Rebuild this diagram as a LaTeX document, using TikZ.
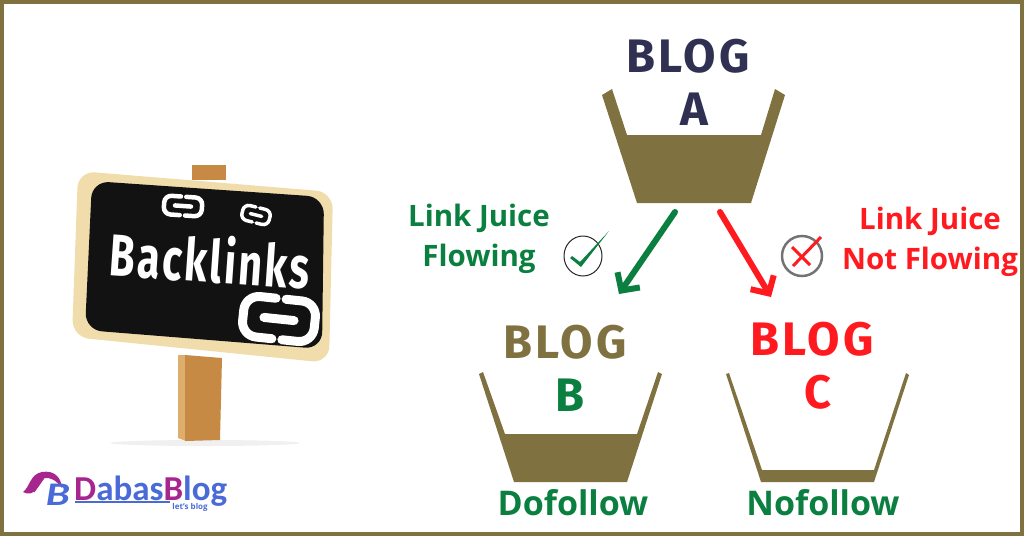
\documentclass[tikz,border=0pt]{standalone}
\usepackage{fontspec}
\setmainfont{Open Sans}
\newfontfamily\blogfont[LetterSpace=7]{Fira Sans}
\newfontfamily\boardfont[LetterSpace=6]{Fira Sans}
\newfontfamily\logofont{Carlito}
\usetikzlibrary{arrows.meta}
\definecolor{bucketbrown}{HTML}{7F7240}
\definecolor{blognavy}{HTML}{2F3052}
\definecolor{juicegreen}{HTML}{0A7F3F}
\definecolor{juicered}{HTML}{FF1A1F}
\definecolor{boardwood}{HTML}{F1DCAC}
\definecolor{postwood}{HTML}{C68A45}
\definecolor{postlight}{HTML}{DDAE6C}
\definecolor{logopurple}{HTML}{A6258F}
\definecolor{logoblue}{HTML}{4A6AD8}
\tikzstyle{bucket}=[fill=bucketbrown,draw=none]
\tikzstyle{blogword}=[inner sep=0pt,font=\blogfont\bfseries\fontsize{47}{47}\selectfont]
\tikzstyle{blogletter}=[inner sep=0pt,font=\blogfont\bfseries\fontsize{47}{47}\selectfont]
\tikzstyle{juicetext}=[inner sep=0pt,font=\bfseries\fontsize{29.5}{29.5}\selectfont]
\tikzstyle{followtext}=[inner sep=0pt,text=juicegreen,font=\bfseries\fontsize{34}{34}\selectfont]
\tikzstyle{flowarrow}=[line width=6pt,line cap=round,-{Straight Barb[length=13pt,width=27pt]}]
\tikzset{chainlink/.pic={
  \draw[white,line cap=round] (-.14,-.55) -- (-1,-.55) -- (-1,.55) -- (-.14,.55);
  \draw[white,line cap=round] (.14,-.55) -- (1,-.55) -- (1,.55) -- (.14,.55);
  \draw[white,line cap=round,sharp corners] (-.42,0) -- (.42,0);
}}

\begin{document}
\begin{tikzpicture}[x=1pt,y=-1pt]
\useasboundingbox (0,0) rectangle (1024,536);
\draw[bucketbrown,line width=3.6pt] (1.8,1.8) rectangle (1022.2,534.2);

\fill[black!6] (205,443) ellipse (95 and 3);
\fill[postwood] (192,165) -- (226,165) -- (226,180) -- (192,180) -- cycle;
\fill[postlight] (178,355) -- (186,355) -- (186,441) -- (178,438) -- cycle;
\fill[postwood] (185,355) -- (222,358) -- (220,440) -- (185,441) -- cycle;
\fill[boardwood,rounded corners=17] (78,171) -- (333,192) -- (329,363) -- (72,337) -- cycle;
\fill[black!93,rounded corners=17] (92,181) -- (324,197) -- (322,349) -- (85,330) -- cycle;

\node[rotate=-4,xscale=.7,inner sep=0pt,text=white,font=\boardfont\bfseries\fontsize{59}{59}\selectfont] (backlinks) at (210,259) {Backlinks};
\path (183,206) pic[line width=4.5pt,x=19pt,y=17pt,rotate=-4,rounded corners=7pt] {chainlink};
\path (256,215) pic[line width=3.5pt,x=14pt,y=14pt,rotate=-14,rounded corners=6pt] {chainlink};
\path (279,319) pic[line width=9pt,x=36pt,y=37pt,rotate=-6,rounded corners=15pt] {chainlink};

\fill[logopurple] (23,492) .. controls (30,487) and (30,474) .. (42,472) .. controls (54,470) and (61,477) .. (62,488) .. controls (56,480) and (50,477) .. (44,478) .. controls (38,486) and (34,498) .. (23,492) -- cycle;
\draw[logopurple,line width=1pt] (34,492) -- (44,478);
\node[xscale=1.3,inner sep=0pt,text=logoblue,font=\logofont\bfseries\itshape\fontsize{33}{33}\selectfont] (logoicon) at (58,495) {B};
\node[inner sep=0pt,anchor=west,text depth=0pt,font=\logofont\bfseries\fontsize{35}{35}\selectfont] (logoword) at (74,488) {\textcolor{logopurple}{D}\textcolor{logoblue}{abas}\textcolor{logopurple}{B}\textcolor{logoblue}{log}};
\draw[logoblue,line width=1.5pt] (75,502) -- (170,502);
\node[inner sep=0pt,text=logoblue,font=\bfseries\fontsize{8}{8}\selectfont] (letsblog) at (190,507) {let's blog};

\node[blogword,text=blognavy] (wordA) at (688,56) {BLOG};
\node[blogletter,text=blognavy] (letterA) at (694,109) {A};
\fill[bucket] (602,95) -- (612,89) -- (627,135) -- (761,135) -- (775,89) -- (785,95) -- (751,203) -- (637,203) -- cycle;

\node[blogword,text=bucketbrown] (wordB) at (565,342) {BLOG};
\node[blogletter,text=juicegreen] (letterB) at (570,395) {B};
\fill[bucket] (479,374) -- (483,372) -- (505,434) -- (637,434) -- (658,372) -- (662,374) -- (627,482) -- (514,482) -- cycle;

\node[blogword,text=juicered] (wordC) at (812,339) {BLOG};
\node[blogletter,text=juicered] (letterC) at (818,392) {C};
\fill[bucket] (726,374) -- (729,373) -- (762,470) -- (874,470) -- (906,373) -- (909,375) -- (874,482) -- (761,482) -- cycle;

\node[followtext] (dofollow) at (573,503) {Dofollow};
\node[followtext] (nofollow) at (823,503) {Nofollow};

\node[juicetext,text=juicegreen] (juiceA) at (479,218) {Link Juice};
\node[juicetext,text=juicegreen] (flowing) at (479,259) {Flowing};
\node[juicetext,text=juicered] (juiceB) at (930,221) {Link Juice};
\node[juicetext,text=juicered] (notflowing) at (930,262) {Not Flowing};

\coordinate (greenfrom) at (675,212);
\coordinate (greento) at (619,294);
\coordinate (redfrom) at (720,212);
\coordinate (redto) at (771,297);
\draw[flowarrow,juicegreen] (greenfrom) -- (greento);
\draw[flowarrow,juicered] (redfrom) -- (redto);

\draw[black!85,line width=1pt] (583,256) ellipse (19 and 20);
\fill[juicegreen] (570,258) -- (572,256) -- (580,262) -- (609,231) -- (581,267) -- cycle;
\draw[black!55,line width=2.5pt] (802,256) ellipse (20 and 20);
\draw[juicered,line width=3pt] (821,237) -- (793,266);
\draw[juicered,line width=3pt] (792,247) -- (810,265);
\end{tikzpicture}
\end{document}
